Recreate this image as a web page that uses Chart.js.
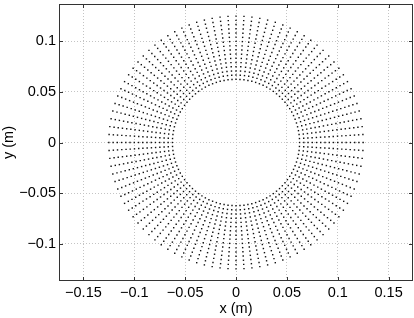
<!DOCTYPE html>
<html>
<head>
<meta charset="utf-8">
<script src="https://cdn.jsdelivr.net/npm/chart.js@4"></script>
<style>
  html, body { margin: 0; padding: 0; background: #fff; overflow: hidden; }
  #wrap { width: 414px; height: 318px; overflow: hidden; }
</style>
</head>
<body>
<div id="wrap"><canvas id="ringChart" width="417" height="318"></canvas></div>
<script>
// Radial positions of the sample points (m)
const radii = [0.0625, 0.0667, 0.0708, 0.075, 0.0792, 0.0833, 0.0875, 0.0917,
               0.0958, 0.1, 0.1042, 0.1083, 0.1125, 0.1167, 0.1208, 0.125];

// Spoke angles (degrees)
const angles = [
  0, 3.6, 7.2, 10.8, 14.4, 18, 21.6, 25.2, 28.8, 32.4,
  36, 39.6, 43.2, 46.8, 50.4, 54, 57.6, 61.2, 64.8, 68.4,
  72, 75.6, 79.2, 82.8, 86.4, 90, 93.6, 97.2, 100.8, 104.4,
  108, 111.6, 115.2, 118.8, 122.4, 126, 129.6, 133.2, 136.8, 140.4,
  144, 147.6, 151.2, 154.8, 158.4, 162, 165.6, 169.2, 172.8, 176.4,
  180, 183.6, 187.2, 190.8, 194.4, 198, 201.6, 205.2, 208.8, 212.4,
  216, 219.6, 223.2, 226.8, 230.4, 234, 237.6, 241.2, 244.8, 248.4,
  252, 255.6, 259.2, 262.8, 266.4, 270, 273.6, 277.2, 280.8, 284.4,
  288, 291.6, 295.2, 298.8, 302.4, 306, 309.6, 313.2, 316.8, 320.4,
  324, 327.6, 331.2, 334.8, 338.4, 342, 345.6, 349.2, 352.8, 356.4
];

// Tick values
const xTicks = [-0.15, -0.1, -0.05, 0, 0.05, 0.1, 0.15];
const yTicks = [-0.1, -0.05, 0, 0.05, 0.1];

// Build the x/y points from the polar grid
const points = [];
angles.forEach(a => {
    const t = a * Math.PI / 180;
    radii.forEach(r => {
        points.push({ x: r * Math.cos(t), y: r * Math.sin(t) });
    });
});

function fmt(v) {
    if (Math.abs(v) < 1e-9) return '0';
    const s = String(Math.round(v * 100) / 100);
    return s.replace('-', '\u2212');
}

const FONT = { family: '"Liberation Sans", Arial, sans-serif', size: 14.5 };

// Frame box and inward ticks like MATLAB
const framePlugin = {
    id: 'frame',
    afterDraw(chart) {
        const { ctx, chartArea: a, scales } = chart;
        ctx.save();
        ctx.strokeStyle = '#333';
        ctx.lineWidth = 1;
        ctx.beginPath();
        xTicks.forEach(v => {
            const px = Math.round(scales.x.getPixelForValue(v)) + 0.5;
            ctx.moveTo(px, a.bottom); ctx.lineTo(px, a.bottom - 4);
            ctx.moveTo(px, a.top); ctx.lineTo(px, a.top + 4);
        });
        yTicks.forEach(v => {
            const py = Math.round(scales.y.getPixelForValue(v)) + 0.5;
            ctx.moveTo(a.left, py); ctx.lineTo(a.left + 4, py);
            ctx.moveTo(a.right, py); ctx.lineTo(a.right - 4, py);
        });
        ctx.stroke();
        ctx.strokeRect(Math.round(a.left) + 0.5, Math.round(a.top) + 0.5,
                       Math.round(a.right - a.left) - 1, Math.round(a.bottom - a.top) - 1);
        ctx.restore();
    }
};

new Chart(document.getElementById('ringChart').getContext('2d'), {
    type: 'scatter',
    data: {
        datasets: [{
            data: points,
            pointRadius: 1,
            pointStyle: 'rect',
            backgroundColor: '#111',
            borderWidth: 0
        }]
    },
    options: {
        responsive: false,
        animation: false,
        layout: { padding: { top: 2, right: 0, left: 0, bottom: 0 } },
        plugins: { legend: { display: false }, tooltip: { enabled: false } },
        scales: {
            x: {
                type: 'linear',
                min: -0.174,
                max: 0.174,
                afterBuildTicks: s => { s.ticks = xTicks.map(v => ({ value: v })); },
                afterFit: s => {
                    s.height = 37;
                    s.paddingLeft = 0;
                    s.paddingRight = 0;
                },
                ticks: {
                    color: '#000',
                    font: FONT,
                    padding: 3,
                    maxRotation: 0,
                    autoSkip: false,
                    callback: v => fmt(v)
                },
                grid: {
                    color: '#c4c4c4',
                    drawTicks: false
                },
                border: { display: false, dash: [1, 2] },
                title: {
                    display: true,
                    text: 'x (m)',
                    color: '#000',
                    font: FONT,
                    padding: { top: -2, bottom: 0 }
                }
            },
            y: {
                type: 'linear',
                min: -0.137,
                max: 0.137,
                afterBuildTicks: s => { s.ticks = yTicks.map(v => ({ value: v })); },
                afterFit: s => {
                    s.width = 59;
                    s.paddingTop = 0;
                    s.paddingBottom = 0;
                },
                ticks: {
                    color: '#000',
                    font: FONT,
                    padding: 3,
                    autoSkip: false,
                    callback: v => fmt(v)
                },
                grid: {
                    color: '#c4c4c4',
                    drawTicks: false
                },
                border: { display: false, dash: [1, 2] },
                title: {
                    display: true,
                    text: 'y (m)',
                    color: '#000',
                    font: FONT,
                    padding: { top: 0, bottom: 0 }
                }
            }
        }
    },
    plugins: [framePlugin]
});
</script>
</body>
</html>
